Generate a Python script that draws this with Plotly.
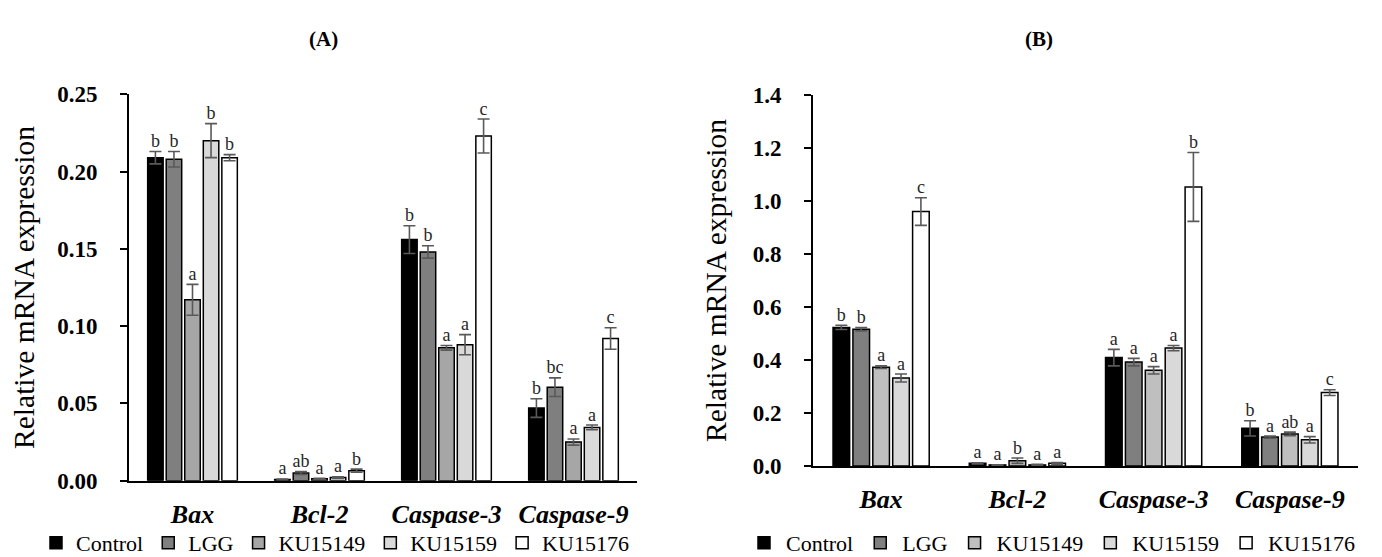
import plotly.graph_objects as go

W, H = 1382, 557
PAGE_OFF = 8  # default body margin of the written html page


def px(x):
    return (x - PAGE_OFF) / W


def py(y):
    return 1 - (y - PAGE_OFF) / H


genes = ["Bax", "Bcl-2", "Caspase-3", "Caspase-9"]
groups = ["Control", "LGG", "KU15149", "KU15159", "KU15176"]

# Panel A values
ctrl_A = [0.209, 0.0008, 0.156, 0.047]
lgg_A = [0.208, 0.005, 0.148, 0.0605]
ku49_A = [0.117, 0.0012, 0.086, 0.025]
ku59_A = [0.220, 0.002, 0.088, 0.0345]
ku76_A = [0.209, 0.0065, 0.223, 0.092]
ctrl_A_err = [0.004, 0.0003, 0.009, 0.006]
lgg_A_err = [0.005, 0.001, 0.004, 0.006]
ku49_A_err = [0.010, 0.0003, 0.0015, 0.002]
ku59_A_err = [0.011, 0.0005, 0.0065, 0.0015]
ku76_A_err = [0.002, 0.001, 0.011, 0.007]
ctrl_A_let = ["b", "a", "b", "b"]
lgg_A_let = ["b", "ab", "b", "bc"]
ku49_A_let = ["a", "a", "a", "a"]
ku59_A_let = ["b", "a", "a", "a"]
ku76_A_let = ["b", "b", "c", "c"]

# Panel B values
ctrl_B = [0.523, 0.010, 0.409, 0.142]
lgg_B = [0.516, 0.004, 0.392, 0.109]
ku49_B = [0.373, 0.020, 0.361, 0.121]
ku59_B = [0.332, 0.004, 0.445, 0.099]
ku76_B = [0.960, 0.010, 1.053, 0.277]
ctrl_B_err = [0.008, 0.002, 0.031, 0.029]
lgg_B_err = [0.006, 0.001, 0.014, 0.004]
ku49_B_err = [0.005, 0.010, 0.014, 0.007]
ku59_B_err = [0.015, 0.002, 0.010, 0.012]
ku76_B_err = [0.052, 0.003, 0.130, 0.011]
ctrl_B_let = ["b", "a", "a", "b"]
lgg_B_let = ["b", "a", "a", "a"]
ku49_B_let = ["a", "b", "a", "ab"]
ku59_B_let = ["a", "a", "a", "a"]
ku76_B_let = ["c", "a", "b", "c"]

colors_A = ["#000000", "#7f7f7f", "#a6a6a6", "#d9d9d9", "#ffffff"]
colors_B = ["#000000", "#7f7f7f", "#bfbfbf", "#d9d9d9", "#ffffff"]

yticks_A = [0.00, 0.05, 0.10, 0.15, 0.20, 0.25]
yticks_B = [0.0, 0.2, 0.4, 0.6, 0.8, 1.0, 1.2, 1.4]

panel_A = [(ctrl_A, ctrl_A_err, ctrl_A_let), (lgg_A, lgg_A_err, lgg_A_let),
           (ku49_A, ku49_A_err, ku49_A_let), (ku59_A, ku59_A_err, ku59_A_let),
           (ku76_A, ku76_A_err, ku76_A_let)]
panel_B = [(ctrl_B, ctrl_B_err, ctrl_B_let), (lgg_B, lgg_B_err, lgg_B_let),
           (ku49_B, ku49_B_err, ku49_B_let), (ku59_B, ku59_B_err, ku59_B_let),
           (ku76_B, ku76_B_err, ku76_B_let)]

SERIF = "Liberation Serif"
SLOT = 0.146
BARW = 0.122

fig = go.Figure()


def add_panel(panel, colors, xa, ya, legend):
    for j, (vals, errs, lets) in enumerate(panel):
        xs = [i + (j - 2) * SLOT for i in range(len(genes))]
        fig.add_trace(go.Bar(
            x=xs, y=vals, width=BARW, name=groups[j],
            marker=dict(color=colors[j], line=dict(color="#000000", width=1.5)),
            error_y=dict(type="data", array=errs, visible=True,
                         color="#595959", thickness=1.6, width=6),
            xaxis=xa, yaxis=ya, legend=legend,
        ))
        fig.add_trace(go.Scatter(
            x=xs, y=[v + e for v, e in zip(vals, errs)], mode="text",
            text=lets, textposition="top center",
            textfont=dict(family=SERIF, size=18, color="#262626"),
            showlegend=False, hoverinfo="skip", xaxis=xa, yaxis=ya,
        ))


add_panel(panel_A, colors_A, "x", "y", "legend")
add_panel(panel_B, colors_B, "x2", "y2", "legend2")

xcommon = dict(
    range=[-0.5, 3.5], tickvals=list(range(len(genes))),
    ticktext=[f"<b><i>{g}</i></b>" for g in genes],
    tickfont=dict(family=SERIF, size=26, color="#000000"),
    showline=True, linecolor="#000000", linewidth=1.6, ticks="",
    showgrid=False, zeroline=False, ticklabelstandoff=9,
)
ycommon = dict(
    showline=True, linecolor="#000000", linewidth=1.6,
    ticks="outside", ticklen=7, tickwidth=1.6, tickcolor="#000000",
    showgrid=False, zeroline=False,
    tickfont=dict(family=SERIF, size=23, color="#000000", weight="bold"),
    ticklabelstandoff=18,
    title=dict(text="Relative mRNA expression",
               font=dict(family=SERIF, size=29.5, color="#000000"), standoff=18),
)

legend_font = dict(family=SERIF, size=22, color="#000000")

fig.update_layout(
    width=W, height=H,
    margin=dict(l=0, r=0, t=0, b=0, autoexpand=False),
    paper_bgcolor="#ffffff", plot_bgcolor="#ffffff",
    barmode="overlay", showlegend=True,
    xaxis=dict(domain=[px(129), px(637)], anchor="y", **xcommon),
    yaxis=dict(domain=[py(480.7), py(94.3)], anchor="x",
               range=[0, 0.25], tickvals=yticks_A, tickformat=".2f", **ycommon),
    xaxis2=dict(domain=[px(813), px(1358)], anchor="y2", **xcommon),
    yaxis2=dict(domain=[py(466), py(95)], anchor="x2",
                range=[0, 1.4], tickvals=yticks_B, tickformat=".1f", **ycommon),
    legend=dict(orientation="h", x=px(36), xanchor="left", y=py(543),
                yanchor="middle", font=legend_font,
                bgcolor="rgba(0,0,0,0)", itemclick=False),
    legend2=dict(orientation="h", x=px(742), xanchor="left", y=py(543),
                 yanchor="middle", font=legend_font, itemwidth=34,
                 bgcolor="rgba(0,0,0,0)", itemclick=False),
    annotations=[
        dict(text="<b>(A)</b>", x=px(323), y=py(39), xref="paper", yref="paper",
             xanchor="center", yanchor="middle", showarrow=False,
             font=dict(family=SERIF, size=21, color="#000000")),
        dict(text="<b>(B)</b>", x=px(1039), y=py(39), xref="paper", yref="paper",
             xanchor="center", yanchor="middle", showarrow=False,
             font=dict(family=SERIF, size=21, color="#000000")),
    ],
)

fig.write_html("out.html")
